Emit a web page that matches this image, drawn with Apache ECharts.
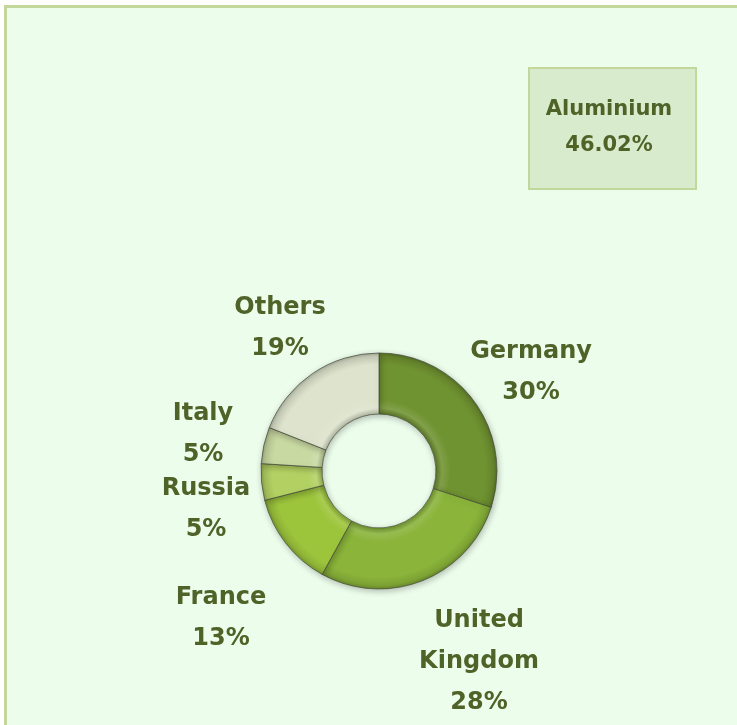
<!DOCTYPE html>
<html>
<head>
<meta charset="utf-8">
<script src="https://cdn.jsdelivr.net/npm/echarts@6/dist/echarts.min.js"></script>
<style>
  html, body { margin: 0; padding: 0; background: #ffffff; }
  #chart { width: 737px; height: 725px; }
</style>
</head>
<body>
<div id="chart"></div>
<script>
// Aluminium producers share
const countries = ['Germany', 'United\nKingdom', 'France', 'Russia', 'Italy', 'Others'];
const shares = [30, 28, 13, 5, 5, 19];
const sliceColors = ['#709331', '#8ab43a', '#9dc53c', '#b3d163', '#c9d9a2', '#dde3cc'];
const metalName = 'Aluminium';
const metalShare = '46.02%';

// label anchor points around the ring (centre of each text block)
const labelSpots = [
  [531, 372], [479, 662], [221, 618], [206, 509], [203, 434], [280, 328]
];

const textColor = '#4f6228';
const fontFamily = '"DejaVu Sans", "Noto Sans", sans-serif';

const ringCenter = [379, 471];
const ringInner = 57, ringOuter = 118;

// shift a hex colour lighter (amt > 0) or darker (amt < 0)
function shade(hex, amt) {
  const n = parseInt(hex.slice(1), 16);
  const ch = [(n >> 16) & 255, (n >> 8) & 255, n & 255].map(v => {
    const t = amt > 0 ? v + (255 - v) * amt : v * (1 + amt);
    return Math.max(0, Math.min(255, Math.round(t)));
  });
  return 'rgb(' + ch.join(',') + ')';
}

// radial shading across the ring width for a bevelled look
function bevel(hex) {
  const f = ringInner / ringOuter;
  return {
    type: 'radial', global: true,
    x: ringCenter[0], y: ringCenter[1], r: ringOuter,
    colorStops: [
      { offset: 0, color: shade(hex, -0.2) },
      { offset: f, color: shade(hex, -0.2) },
      { offset: f + 0.05, color: shade(hex, 0.12) },
      { offset: f + 0.12, color: hex },
      { offset: 0.9, color: hex },
      { offset: 0.97, color: shade(hex, -0.1) },
      { offset: 1, color: shade(hex, -0.25) }
    ]
  };
}

const chart = echarts.init(document.getElementById('chart'));
chart.setOption({
  backgroundColor: '#ffffff',
  animation: false,
  graphic: [
    {
      type: 'rect', z: -10,
      shape: { x: 5.5, y: 6.5, width: 800, height: 800 },
      style: { fill: '#ecfdec', stroke: '#c4d79b', lineWidth: 3 }
    },
    {
      type: 'rect', z: 5,
      shape: { x: 529, y: 68, width: 167, height: 121 },
      style: { fill: '#d8ebcc', stroke: '#c4d79b', lineWidth: 2 }
    },
    {
      type: 'text', z: 6, x: 609, y: 128,
      style: {
        text: metalName + '\n' + metalShare,
        fill: textColor, font: 'bold 21px ' + fontFamily,
        align: 'center', verticalAlign: 'middle', lineHeight: 36
      }
    }
  ],
  series: [{
    type: 'pie',
    center: ringCenter,
    radius: [ringInner, ringOuter],
    startAngle: 90,
    clockwise: true,
    data: countries.map((c, i) => ({
      name: c, value: shares[i],
      itemStyle: { color: bevel(sliceColors[i]) }
    })),
    itemStyle: {
      borderColor: 'rgba(70,75,55,0.7)',
      borderWidth: 1,
      shadowColor: 'rgba(0,0,0,0.25)',
      shadowBlur: 6,
      shadowOffsetX: 1,
      shadowOffsetY: 2
    },
    label: {
      show: true,
      position: 'outside',
      formatter: p => p.name + '\n' + p.value + '%',
      color: textColor,
      fontFamily: fontFamily,
      fontWeight: 'bold',
      fontSize: 24,
      lineHeight: 41,
      align: 'center'
    },
    labelLine: { show: false },
    labelLayout: p => ({
      x: labelSpots[p.dataIndex][0],
      y: labelSpots[p.dataIndex][1],
      align: 'center',
      verticalAlign: 'middle'
    }),
    emphasis: { disabled: true }
  }]
});
</script>
</body>
</html>
